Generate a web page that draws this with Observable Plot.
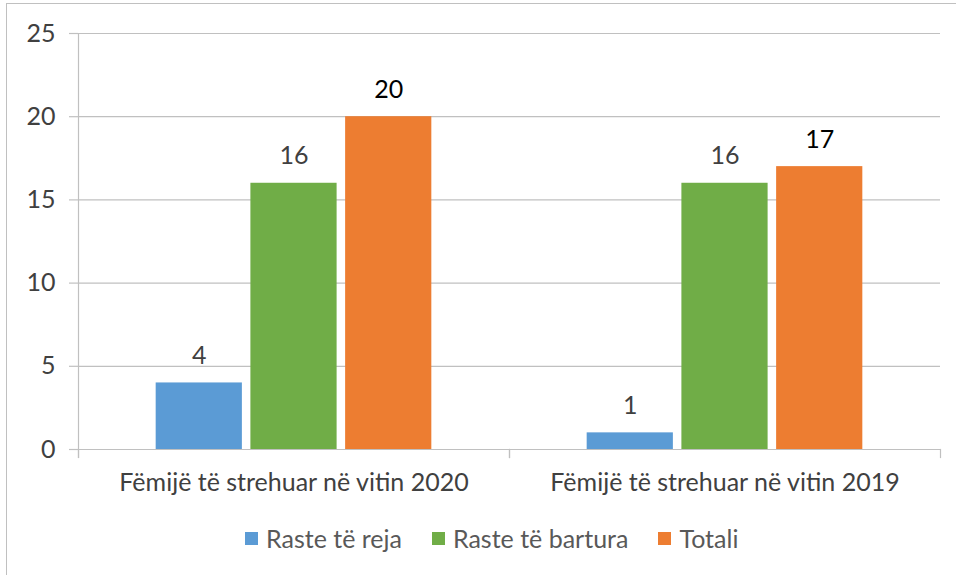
<!DOCTYPE html>
<html><head><meta charset="utf-8">
<script src="https://cdn.jsdelivr.net/npm/d3@7"></script>
<script src="https://cdn.jsdelivr.net/npm/@observablehq/plot@0.6"></script>
<style>
body{margin:0;background:#fff;font-family:Lato, "Open Sans", sans-serif}
#wrap{position:relative;width:956px;height:575px;overflow:hidden;background:#fff}
#border{position:absolute;left:6px;top:3px;width:1000px;height:700px;border-left:1.5px solid #c0c0c0;border-top:1.5px solid #c0c0c0}
#chart{position:absolute;left:0;top:0}
#legend{position:absolute;top:523px;left:245px;display:flex;align-items:center;font-size:25px;color:#595959;white-space:nowrap}
.item{display:flex;align-items:center;margin-right:30px}
.sw{width:13px;height:13px;margin-right:8px}
</style>
</head><body>
<div id="wrap"><div id="border"></div><div id="chart"></div><div id="legend"></div></div>
<script>
const categories = ["Fëmijë të strehuar në vitin 2020", "Fëmijë të strehuar në vitin 2019"];
const seriesNames = ["Raste të reja", "Raste të bartura", "Totali"];
const values2020 = [4, 16, 20];
const values2019 = [1, 16, 17];
const seriesColors = ["#5b9bd5", "#70ad47", "#ed7d31"];
const labelColors = ["#404040", "#404040", "#000000"];
const yTicks = [0, 5, 10, 15, 20, 25];

const data = [
  ...seriesNames.map((s, i) => ({category: categories[0], series: s, value: values2020[i], lc: labelColors[i]})),
  ...seriesNames.map((s, i) => ({category: categories[1], series: s, value: values2019[i], lc: labelColors[i]}))
];

const FONT = "Lato, 'Open Sans', sans-serif";
const FS = 25;
const plot = Plot.plot({
  width: 956, height: 510,
  marginTop: 33, marginBottom: 61, marginLeft: 77, marginRight: 16,
  style: {fontFamily: FONT, background: "transparent", overflow: "visible"},
  fx: {domain: categories, padding: 0, label: null},
  x: {domain: seriesNames, paddingInner: 0.09, paddingOuter: 0.82, round: false, axis: null},
  y: {domain: [0, 25], label: null},
  color: {domain: seriesNames, range: seriesColors},
  marks: [
    Plot.gridY(yTicks, {stroke: "#c0c0c0", strokeOpacity: 1, strokeWidth: 1.2}),
    Plot.axisY({ticks: yTicks, tickSize: 9, tickPadding: 14, stroke: "#c0c0c0", strokeOpacity: 1, strokeWidth: 1.2, fontSize: FS, fill: "#404040", label: null}),
    Plot.frame({anchor: "left", facetAnchor: "left", stroke: "#c0c0c0", strokeWidth: 1.2, insetBottom: -8}),
    Plot.frame({anchor: "left", stroke: "#c0c0c0", strokeWidth: 1.2, insetTop: 416, insetBottom: -8}),
    Plot.frame({anchor: "right", stroke: "#c0c0c0", strokeWidth: 1.2, insetTop: 416, insetBottom: -8}),
    Plot.barY(data, {fx: "category", x: "series", y: "value", fill: "series"}),
    Plot.text(data, {fx: "category", x: "series", y: "value", text: d => String(d.value), dy: -27, fontSize: FS, fill: "lc"}),
    Plot.axisFx({anchor: "bottom", tickSize: 0, tickPadding: 24, fontSize: FS, fill: "#404040", label: null})
  ]
});
document.getElementById("chart").appendChild(plot);

const legend = document.getElementById("legend");
seriesNames.forEach((s, i) => {
  const it = document.createElement("div"); it.className = "item";
  const sw = document.createElement("div"); sw.className = "sw"; sw.style.background = seriesColors[i];
  const t = document.createElement("span"); t.textContent = s;
  it.appendChild(sw); it.appendChild(t); legend.appendChild(it);
});
</script>
</body></html>
